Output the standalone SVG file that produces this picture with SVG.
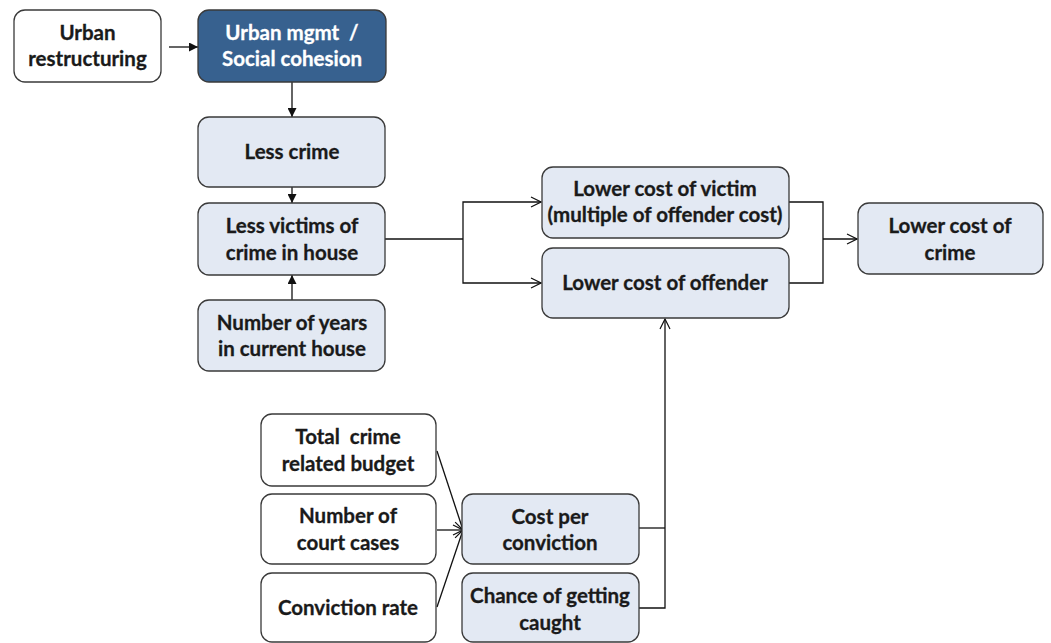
<svg xmlns="http://www.w3.org/2000/svg" width="1051" height="643" viewBox="0 0 1051 643">
  <defs>
    <style>
      .box { stroke: #3a3a3a; stroke-width: 1.3; }
      .plain { fill: #ffffff; }
      .light { fill: #e3e9f3; }
      .dark { fill: #37618f; }
      .lbl { font-family: Lato, "Liberation Sans", sans-serif; font-weight: bold; font-size: 20.5px; fill: #1a1a1a; stroke: #1a1a1a; stroke-width: 0.3; text-anchor: middle; }
      .lbl-w { fill: #ffffff; stroke: #ffffff; }
      .wire { fill: none; stroke: #111111; stroke-width: 1.3; }
    </style>
    <marker id="solid" viewBox="0 0 10 10" refX="10" refY="5" markerWidth="9" markerHeight="9" markerUnits="userSpaceOnUse" orient="auto">
      <path d="M0,0 L10,5 L0,10 z" fill="#111111"/>
    </marker>
    <marker id="open" viewBox="0 0 12 12" refX="11" refY="6" markerWidth="12" markerHeight="12" markerUnits="userSpaceOnUse" orient="auto">
      <path d="M1,1 L11,6 L1,11" fill="none" stroke="#111111" stroke-width="1.2"/>
    </marker>
  </defs>

  <rect width="1051" height="643" fill="#ffffff"/>

  <!-- connectors -->
  <g id="connectors">
    <line class="wire" x1="169" y1="47" x2="198" y2="47" marker-end="url(#solid)"/>
    <line class="wire" x1="292" y1="82" x2="292" y2="117" marker-end="url(#solid)"/>
    <line class="wire" x1="292" y1="187" x2="292" y2="203" marker-end="url(#solid)"/>
    <line class="wire" x1="292" y1="300" x2="292" y2="275" marker-end="url(#solid)"/>

    <line class="wire" x1="385" y1="239" x2="463" y2="239"/>
    <polyline class="wire" points="463,239 463,202 541,202" marker-end="url(#open)"/>
    <polyline class="wire" points="463,239 463,283 541,283" marker-end="url(#open)"/>

    <polyline class="wire" points="789,202 823,202 823,283 789,283"/>
    <line class="wire" x1="823" y1="239" x2="857" y2="239" marker-end="url(#open)"/>

    <line class="wire" x1="437" y1="451" x2="463" y2="530" marker-end="url(#open)"/>
    <line class="wire" x1="437" y1="530" x2="463" y2="530" marker-end="url(#open)"/>
    <line class="wire" x1="437" y1="607" x2="463" y2="530" marker-end="url(#open)"/>

    <polyline class="wire" points="639,528 665,528"/>
    <polyline class="wire" points="639,608 665,608 665,319" marker-end="url(#open)"/>
  </g>

  <g id="urban-restructuring">
    <rect class="box plain" x="14" y="10" width="147" height="72" rx="11"/>
    <text class="lbl" x="87.5" y="40">Urban</text>
    <text class="lbl" x="87.5" y="66">restructuring</text>
  </g>

  <g id="urban-mgmt">
    <rect class="box dark" x="198" y="10" width="188" height="72" rx="11"/>
    <text class="lbl lbl-w" x="292" y="40" xml:space="preserve">Urban mgmt  /</text>
    <text class="lbl lbl-w" x="292" y="66">Social cohesion</text>
  </g>

  <g id="less-crime">
    <rect class="box light" x="198" y="117" width="187" height="70" rx="11"/>
    <text class="lbl" x="292" y="159">Less crime</text>
  </g>

  <g id="less-victims">
    <rect class="box light" x="198" y="203" width="187" height="72" rx="11"/>
    <text class="lbl" x="292" y="233">Less victims of</text>
    <text class="lbl" x="292" y="260">crime in house</text>
  </g>

  <g id="years-in-house">
    <rect class="box light" x="198" y="300" width="187" height="71" rx="11"/>
    <text class="lbl" x="292" y="330">Number of years</text>
    <text class="lbl" x="292" y="356">in current house</text>
  </g>

  <g id="cost-victim">
    <rect class="box light" x="542" y="167" width="247" height="71" rx="11"/>
    <text class="lbl" x="665" y="196">Lower cost of victim</text>
    <text class="lbl" x="665" y="222">(multiple of offender cost)</text>
  </g>

  <g id="cost-offender">
    <rect class="box light" x="542" y="248" width="247" height="70" rx="11"/>
    <text class="lbl" x="665" y="290">Lower cost of offender</text>
  </g>

  <g id="cost-crime">
    <rect class="box light" x="858" y="203" width="185" height="71" rx="11"/>
    <text class="lbl" x="950" y="233">Lower cost of</text>
    <text class="lbl" x="950" y="260">crime</text>
  </g>

  <g id="crime-budget">
    <rect class="box plain" x="261" y="414" width="175" height="72" rx="11"/>
    <text class="lbl" x="348" y="444" xml:space="preserve">Total  crime</text>
    <text class="lbl" x="348" y="471">related budget</text>
  </g>

  <g id="court-cases">
    <rect class="box plain" x="261" y="494" width="175" height="70" rx="11"/>
    <text class="lbl" x="348" y="523">Number of</text>
    <text class="lbl" x="348" y="550">court cases</text>
  </g>

  <g id="conviction-rate">
    <rect class="box plain" x="261" y="573" width="175" height="69" rx="11"/>
    <text class="lbl" x="348" y="615">Conviction rate</text>
  </g>

  <g id="cost-per-conviction">
    <rect class="box light" x="462" y="494" width="177" height="70" rx="11"/>
    <text class="lbl" x="550" y="524">Cost per</text>
    <text class="lbl" x="550" y="550">conviction</text>
  </g>

  <g id="chance-caught">
    <rect class="box light" x="462" y="573" width="177" height="69" rx="11"/>
    <text class="lbl" x="550" y="603">Chance of getting</text>
    <text class="lbl" x="550" y="630">caught</text>
  </g>
</svg>
